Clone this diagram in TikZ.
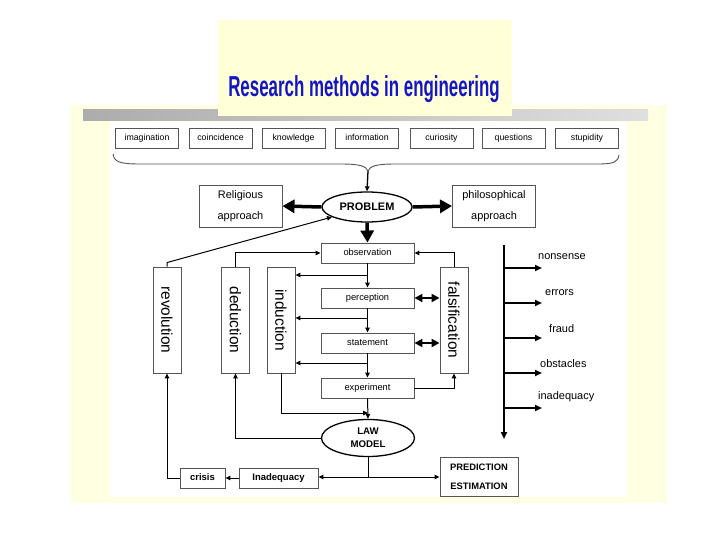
\documentclass[tikz,border=0pt]{standalone}
\usepackage{fontspec}
\usepackage{graphicx}
\setmainfont{Liberation Sans}
\usetikzlibrary{shapes.geometric,arrows.meta,calc}
\definecolor{bgyellow}{HTML}{FFFFE2}
\definecolor{titleyellow}{HTML}{FFFFD8}
\definecolor{titleblue}{HTML}{1515C8}
\definecolor{boxline}{HTML}{555555}
\tikzset{
  topbox/.style={draw=boxline, line width=0.9bp, minimum width=63bp, minimum height=20bp, inner sep=0pt, text height=0.72em, text depth=0.22em, font=\fontsize{8.8}{10}\selectfont},
  midbox/.style={draw=boxline, line width=0.9bp, minimum width=93bp, minimum height=20bp, inner sep=0pt, text height=0.72em, text depth=0.22em, font=\fontsize{9.3}{10}\selectfont},
  bigbox/.style={draw=boxline, line width=0.9bp, minimum width=83bp, minimum height=42bp, inner sep=0pt, align=center, font=\fontsize{11}{21}\selectfont},
  vbox/.style={draw=boxline, line width=0.9bp, minimum width=28bp, minimum height=106bp, inner sep=0pt, font=\fontsize{15.5}{16}\selectfont},
  ell/.style={draw=black, ellipse, line width=1.3bp, inner sep=0pt, align=center},
  botbox/.style={draw=boxline, line width=0.9bp, minimum height=20bp, inner sep=0pt, text height=0.72em, text depth=0.22em, font=\fontsize{9.5}{10}\selectfont\bfseries},
  sidelabel/.style={inner sep=0pt, font=\fontsize{11}{12}\selectfont},
  conn/.style={draw=black, line width=1bp, -{Triangle[length=5bp,width=4.5bp]}},
  plain/.style={draw=black, line width=1bp},
  thickarr/.style={draw=black, line width=3.5bp, -{Triangle[length=12bp,width=13bp]}},
  dblarr/.style={draw=black, line width=2.5bp, {Triangle[length=8bp,width=8bp]}-{Triangle[length=8bp,width=8bp]}},
  branch/.style={draw=black, line width=2bp, -{Triangle[length=7bp,width=6bp]}}
}
\begin{document}
\begin{tikzpicture}[x=1bp,y=-1bp]
\useasboundingbox (0,0) rectangle (720,540);
\fill[white] (0,0) rectangle (720,540);
% background panels
\fill[bgyellow] (70,105) rectangle (667,503);
\shade[left color=gray!65, right color=gray!25] (83,110) rectangle (648,121);
\fill[white] (110,122) rectangle (627,497);
\fill[titleyellow] (218,20) rectangle (512,116);
\node[text=titleblue, font=\fontsize{29}{29}\selectfont\bfseries] (title) at (364,89)
  {\scalebox{0.585}[1]{Research methods in engineering}};

% top row
\node[topbox] (imagination) at (147,138) {imagination};
\node[topbox] (coincidence) at (220.5,138) {coincidence};
\node[topbox] (knowledge) at (293.5,138) {knowledge};
\node[topbox] (information) at (367,138) {information};
\node[topbox] (curiosity) at (441.5,138) {curiosity};
\node[topbox] (questions) at (513.5,138) {questions};
\node[topbox] (stupidity) at (587,138) {stupidity};

% brace
\coordinate (bracetip) at (368,171);
\draw[line width=0.9bp, boxline] (113,154) .. controls (114,162) and (120,164) .. (140,164)
  -- (340,164) .. controls (360,164) and (366,166) .. (bracetip)
  .. controls (370,166) and (376,164) .. (396,164)
  -- (598,164) .. controls (614,164) and (618,162) .. (619,155);

% problem level
\node[ell, minimum width=90bp, minimum height=30bp, font=\fontsize{11}{12}\selectfont\bfseries] (problem) at (367,207) {PROBLEM};
\node[bigbox] (religious) at (240.5,206) {Religious\\approach};
\node[bigbox] (philosophical) at (494,206) {philosophical\\approach};
\draw[conn, line width=1.3bp] (bracetip) -- (problem.north);
\draw[thickarr] (problem.west) -- (religious.east);
\draw[thickarr] (problem.east) -- (philosophical.west);

% central chain
\node[midbox] (observation) at (367.5,253) {observation};
\node[midbox] (perception) at (367.5,298) {perception};
\node[midbox] (statement) at (367.5,343) {statement};
\node[midbox] (experiment) at (367.5,388) {experiment};
\node[ell, minimum width=93bp, minimum height=37bp, font=\fontsize{9.7}{13}\selectfont\bfseries] (law) at (368,438) {LAW\\MODEL};
\draw[thickarr] (problem.south) -- (observation.north);
\draw[conn] (observation.south) -- (perception.north);
\draw[conn] (perception.south) -- (statement.north);
\draw[conn] (statement.south) -- (experiment.north);
\draw[conn] (experiment.south) -- (law.north);

% vertical boxes
\node[vbox] (revolution) at (167,320) {\rotatebox{-90}{revolution}};
\node[vbox] (deduction) at (235.5,320) {\rotatebox{-90}{deduction}};
\node[vbox] (induction) at (281,320) {\rotatebox{-90}{induction}};
\node[vbox] (falsification) at (454,320) {\rotatebox{-90}{falsification}};

% induction feeds
\coordinate (c1) at (368,275);
\coordinate (c2) at (368,318);
\coordinate (c3) at (368,363);
\draw[conn] (c1) -- (induction.east |- c1);
\draw[conn] (c2) -- (induction.east |- c2);
\draw[conn] (c3) -- (induction.east |- c3);
\coordinate (lawin) at (368,413);
\draw[conn] (induction.south) |- (lawin);

% deduction loop
\draw[conn] (deduction.north) |- (observation.west);
\draw[conn] (law.west) -| (deduction.south);

% falsification loop
\draw[conn] (falsification.north) |- (observation.east);
\draw[conn] (experiment.east) -| (falsification.south);
\draw[dblarr] (perception.east) -- (perception.east -| falsification.west);
\draw[dblarr] (statement.east) -- (statement.east -| falsification.west);

% revolution
\draw[conn] (revolution.north) -- ++(0,-4) -- (problem.196);

% bottom
\node[botbox, minimum width=79bp] (inadequacy) at (278.5,478) {Inadequacy};
\node[botbox, minimum width=45bp] (crisis) at (202.5,478) {crisis};
\node[draw=boxline, line width=0.9bp, minimum width=78bp, minimum height=39bp, inner sep=0pt, align=center, font=\fontsize{9.4}{19}\selectfont\bfseries] (prediction) at (479,477) {PREDICTION\\ESTIMATION};
\coordinate (split) at (368,477);
\draw[plain] (law.south) -- (split);
\draw[conn] (split) -- (inadequacy.east |- split);
\draw[conn] (split) -- (prediction.west |- split);
\draw[conn] (inadequacy.west) -- (crisis.east);
\draw[conn] (crisis.west) -| (revolution.south);

% right side
\coordinate (vtop) at (504,245);
\coordinate (vbot) at (504,439);
\draw[branch] (vtop) -- (vbot);
\foreach \n/\y/\lx/\ly/\t in {1/268/538/257/nonsense, 2/303/545/293/errors, 3/338/549/329/fraud, 4/373/540/364/obstacles, 5/408/538/397/inadequacy}{
  \coordinate (b\n) at (504,\y);
  \coordinate (e\n) at (542,\y);
  \draw[branch] (b\n) -- (e\n);
  \node[sidelabel, anchor=west] (lab\n) at (\lx,\ly) {\t};
}
\end{tikzpicture}
\end{document}
